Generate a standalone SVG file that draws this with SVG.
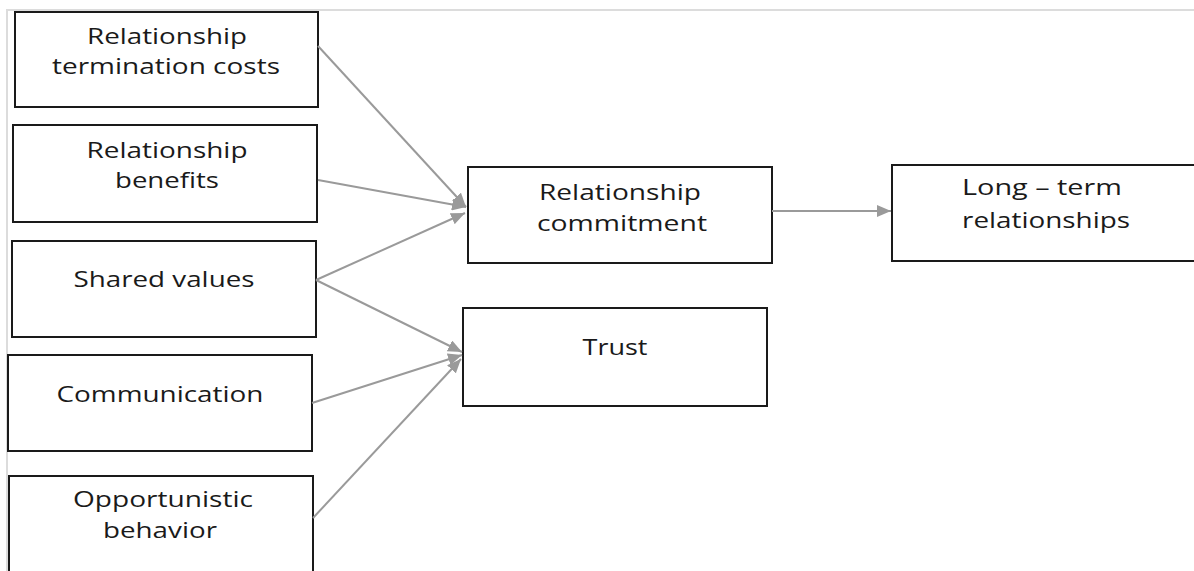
<svg xmlns="http://www.w3.org/2000/svg" width="1194" height="571" viewBox="0 0 1194 571">
<style>
.box{fill:#fff;stroke:#1a1a1a;stroke-width:2}
.lbl{font-family:"Open Sans","Noto Sans",sans-serif;font-size:21px;fill:#1a1a1a;text-anchor:middle}
.conn{stroke:#9a9a9a;stroke-width:2;fill:none;marker-end:url(#ah)}
.frame{stroke:#dcdcdc;stroke-width:2;fill:none}
</style>
<defs>
<marker id="ah" markerUnits="userSpaceOnUse" markerWidth="14" markerHeight="12" refX="14" refY="6" orient="auto">
<path d="M0,0 L14,6 L0,12 z" fill="#9a9a9a"/>
</marker>
</defs>
<rect width="1194" height="571" fill="#fff"/>
<path class="frame" d="M7,571 V10 H1194"/>
<g id="n-termination">
<rect class="box" x="15" y="12" width="303" height="95"/>
<text class="lbl" x="167" y="44" textLength="160" lengthAdjust="spacingAndGlyphs">Relationship</text>
<text class="lbl" x="166" y="74" textLength="228" lengthAdjust="spacingAndGlyphs">termination costs</text>
</g>
<g id="n-benefits">
<rect class="box" x="13" y="125" width="304" height="97"/>
<text class="lbl" x="167" y="158" textLength="161" lengthAdjust="spacingAndGlyphs">Relationship</text>
<text class="lbl" x="167" y="188" textLength="104" lengthAdjust="spacingAndGlyphs">benefits</text>
</g>
<g id="n-shared">
<rect class="box" x="12" y="241" width="304" height="96"/>
<text class="lbl" x="164" y="287" textLength="181" lengthAdjust="spacingAndGlyphs">Shared values</text>
</g>
<g id="n-communication">
<rect class="box" x="8" y="355" width="304" height="96"/>
<text class="lbl" x="160" y="402" textLength="207" lengthAdjust="spacingAndGlyphs">Communication</text>
</g>
<g id="n-opportunistic">
<rect class="box" x="9" y="476" width="304" height="110"/>
<text class="lbl" x="163" y="507" textLength="180" lengthAdjust="spacingAndGlyphs">Opportunistic</text>
<text class="lbl" x="160" y="538" textLength="114" lengthAdjust="spacingAndGlyphs">behavior</text>
</g>
<g id="n-commitment">
<rect class="box" x="468" y="167" width="304" height="96"/>
<text class="lbl" x="620" y="200" textLength="162" lengthAdjust="spacingAndGlyphs">Relationship</text>
<text class="lbl" x="622" y="231" textLength="170" lengthAdjust="spacingAndGlyphs">commitment</text>
</g>
<g id="n-trust">
<rect class="box" x="463" y="308" width="304" height="98"/>
<text class="lbl" x="615" y="355" textLength="65" lengthAdjust="spacingAndGlyphs">Trust</text>
</g>
<g id="n-longterm">
<rect class="box" x="892" y="165" width="310" height="96"/>
<text class="lbl" x="1042" y="195" textLength="160" lengthAdjust="spacingAndGlyphs">Long – term</text>
<text class="lbl" x="1046" y="228" textLength="168" lengthAdjust="spacingAndGlyphs">relationships</text>
</g>
<g id="connectors">
<line class="conn" x1="318" y1="46" x2="466" y2="207"/>
<line class="conn" x1="318" y1="180" x2="466" y2="207"/>
<line class="conn" x1="316" y1="280" x2="465" y2="213"/>
<line class="conn" x1="316" y1="280" x2="462" y2="352"/>
<line class="conn" x1="312" y1="403" x2="462" y2="355"/>
<line class="conn" x1="313" y1="518" x2="461" y2="359"/>
<line class="conn" x1="772" y1="211" x2="891" y2="211"/>
</g>
</svg>
